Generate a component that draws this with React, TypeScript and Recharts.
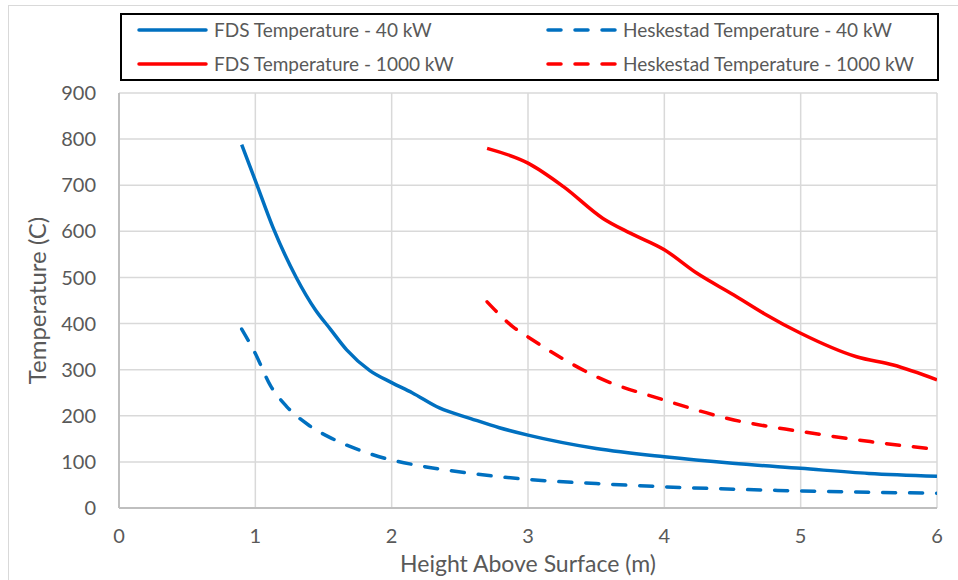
import React from 'react';
import { LineChart, Line, XAxis, YAxis, CartesianGrid } from 'recharts';

// ---- Data ----
const xTicks = [0, 1, 2, 3, 4, 5, 6];
const yTicks = [0, 100, 200, 300, 400, 500, 600, 700, 800, 900];

const fds40Height = [0.9, 1.0, 1.13, 1.3, 1.44, 1.55, 1.67, 1.84, 2.0, 2.15, 2.35, 2.58, 2.79, 3.0, 3.5, 4.0, 4.5, 5.0, 5.5, 6.0];
const fds40Temp = [788, 710, 608, 500, 430, 388, 343, 298, 272, 250, 217, 194, 174, 158, 129, 111, 97, 86, 75, 69];

const hesk40Height = [0.9, 1.0, 1.11, 1.23, 1.39, 1.56, 1.76, 2.0, 2.18, 2.58, 3.0, 3.5, 4.0, 5.0, 6.0];
const hesk40Temp = [388, 335, 266, 220, 180, 151, 126, 104, 93, 75, 62, 53, 46, 37, 32];

const fds1000Height = [2.7, 3.0, 3.26, 3.55, 3.75, 4.0, 4.24, 4.51, 4.73, 5.0, 5.41, 5.68, 6.0];
const fds1000Temp = [780, 748, 697, 628, 596, 560, 509, 462, 422, 379, 328, 310, 278];

const hesk1000Height = [2.7, 2.89, 3.0, 3.23, 3.5, 4.0, 4.51, 5.0, 5.51, 6.0];
const hesk1000Temp = [447, 393, 371, 328, 285, 234, 191, 166, 144, 127];

const seriesNames = [
  'FDS Temperature - 40 kW',
  'Heskestad Temperature - 40 kW',
  'FDS Temperature - 1000 kW',
  'Heskestad Temperature - 1000 kW',
];

const BLUE = '#0070C0';
const RED = '#FF0000';
const TEXT = '#595959';
const FONT = 'Lato, "Open Sans", sans-serif';
const DASH = '13 14';

const toPoints = (xs: number[], ys: number[]) => xs.map((x, i) => ({ x, t: ys[i] }));

const fds40 = toPoints(fds40Height, fds40Temp);
const hesk40 = toPoints(hesk40Height, hesk40Temp);
const fds1000 = toPoints(fds1000Height, fds1000Temp);
const hesk1000 = toPoints(hesk1000Height, hesk1000Temp);

const legendItems = [
  { name: seriesNames[0], color: BLUE, dashed: false, col: 0, row: 0 },
  { name: seriesNames[1], color: BLUE, dashed: true, col: 1, row: 0 },
  { name: seriesNames[2], color: RED, dashed: false, col: 0, row: 1 },
  { name: seriesNames[3], color: RED, dashed: true, col: 1, row: 1 },
];

const ChartLegend = () => {
  const colX = [17, 426];
  const rowY = [17, 51];
  return (
    <svg width={819} height={68} style={{ position: 'absolute', left: 120, top: 13 }}>
      <rect x={1} y={1} width={817} height={66} fill="#fff" stroke="#000" strokeWidth={2} />
      {legendItems.map((it) => {
        const x0 = colX[it.col];
        const y = rowY[it.row];
        return (
          <g key={it.name}>
            <line
              x1={x0 + 2}
              x2={x0 + 69}
              y1={y}
              y2={y}
              stroke={it.color}
              strokeWidth={3.5}
              strokeLinecap="round"
              strokeDasharray={it.dashed ? DASH : undefined}
            />
            <text x={x0 + 77} y={y + 7} fill={TEXT} fontSize={19} fontFamily={FONT}>
              {it.name}
            </text>
          </g>
        );
      })}
    </svg>
  );
};

const YTitle = (props: any) => {
  const vb = props.viewBox || {};
  const cx = (vb.x ?? 0) + 36;
  const cy = (vb.y ?? 0) + (vb.height ?? 0) / 2;
  return (
    <text
      x={cx}
      y={cy}
      transform={`rotate(-90, ${cx}, ${cy})`}
      textAnchor="middle"
      dominantBaseline="central"
      fill={TEXT}
      fontSize={24}
      fontFamily={FONT}
    >
      Temperature (C)
    </text>
  );
};

const XTitle = (props: any) => {
  const vb = props.viewBox || {};
  const cx = (vb.x ?? 0) + (vb.width ?? 0) / 2;
  const y = (vb.y ?? 0) + 64;
  return (
    <text x={cx} y={y} textAnchor="middle" fill={TEXT} fontSize={23} fontFamily={FONT}>
      Height Above Surface (m)
    </text>
  );
};

export default function App() {
  return (
    <div style={{ position: 'absolute', left: 0, top: 0, width: 958, height: 580, overflow: 'hidden', background: '#fff' }}>
      <div
        style={{
          position: 'absolute',
          left: 8,
          top: 5,
          width: 980,
          height: 600,
          border: '1px solid #d9d9d9',
          boxSizing: 'border-box',
        }}
      />
      <div style={{ position: 'absolute', left: 0, top: 0 }}>
        <LineChart width={958} height={580} margin={{ top: 93, right: 21, bottom: 0, left: 0 }}>
          <CartesianGrid stroke="#d9d9d9" strokeWidth={1.5} />
          <XAxis
            type="number"
            dataKey="x"
            domain={[0, 6]}
            ticks={xTicks}
            height={72}
            tickSize={0}
            tickMargin={21}
            axisLine={{ stroke: '#bfbfbf', strokeWidth: 2 }}
            tick={{ fill: TEXT, fontSize: 20, fontFamily: FONT }}
            label={<XTitle />}
            allowDataOverflow
          />
          <YAxis
            type="number"
            domain={[0, 900]}
            ticks={yTicks}
            width={119}
            tickSize={0}
            tickMargin={23}
            axisLine={{ stroke: '#bfbfbf', strokeWidth: 2 }}
            tick={{ fill: TEXT, fontSize: 20, fontFamily: FONT }}
            label={<YTitle />}
            allowDataOverflow
          />
          <Line data={fds40} dataKey="t" name={seriesNames[0]} type="monotone" stroke={BLUE} strokeWidth={3.5} dot={false} activeDot={false} isAnimationActive={false} />
          <Line data={hesk40} dataKey="t" name={seriesNames[1]} type="monotone" stroke={BLUE} strokeWidth={3.5} strokeDasharray={DASH} strokeLinecap="round" dot={false} activeDot={false} isAnimationActive={false} />
          <Line data={fds1000} dataKey="t" name={seriesNames[2]} type="monotone" stroke={RED} strokeWidth={3.5} dot={false} activeDot={false} isAnimationActive={false} />
          <Line data={hesk1000} dataKey="t" name={seriesNames[3]} type="monotone" stroke={RED} strokeWidth={3.5} strokeDasharray={DASH} strokeLinecap="round" dot={false} activeDot={false} isAnimationActive={false} />
        </LineChart>
      </div>
      <ChartLegend />
    </div>
  );
}
